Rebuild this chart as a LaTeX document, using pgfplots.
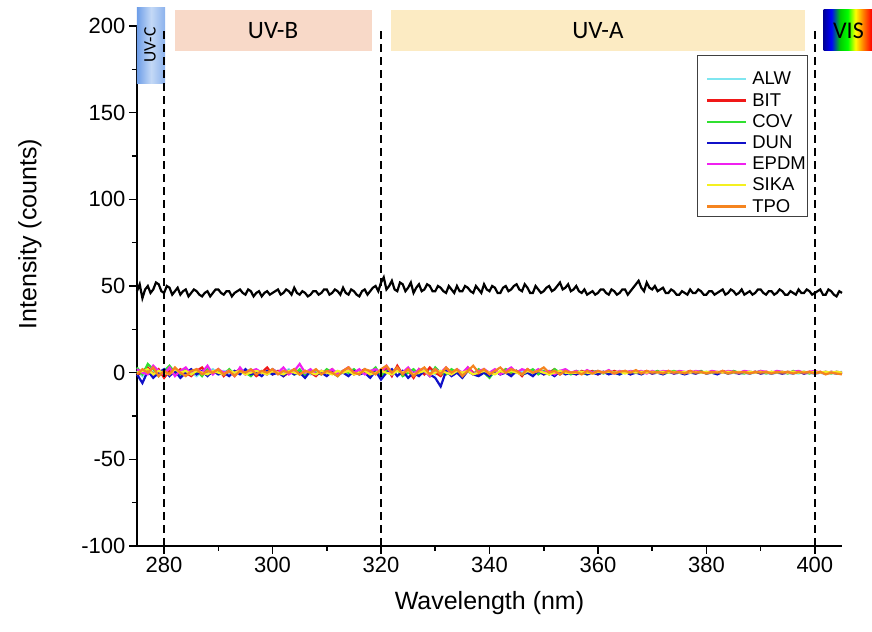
\documentclass[border=0pt]{standalone}
\usepackage{fontspec}
\setmainfont{Liberation Sans}
\newfontfamily\calfont{Carlito}
\usepackage{pgfplots}
\usepackage{pgfplotstable}
\pgfplotsset{compat=1.18}

\definecolor{cALW}{HTML}{7FE6F0}
\definecolor{cBIT}{HTML}{F01818}
\definecolor{cCOV}{HTML}{30E030}
\definecolor{cDUN}{HTML}{1010C8}
\definecolor{cEPDM}{HTML}{F020F0}
\definecolor{cSIKA}{HTML}{F4F020}
\definecolor{cTPO}{HTML}{F5841F}
\definecolor{UVB}{HTML}{F8D9C8}
\definecolor{UVA}{HTML}{FCEBC3}
\definecolor{UVCdark}{HTML}{6E9EE8}
\definecolor{UVClight}{HTML}{C4D9F6}

\pgfdeclarehorizontalshading{rainbow}{100bp}{
  color(0bp)=(blue!60!black); color(25bp)=(blue!60!black);
  color(33bp)=(blue); color(42bp)=(green!80!black); color(50bp)=(green);
  color(58bp)=(yellow); color(66bp)=(orange); color(75bp)=(red);
  color(100bp)=(red)}

% background (black) spectrum
\pgfplotstableread{
x y
275 47
275.5 51
276 43
276.5 48
277 50
277.5 46
278 48
278.5 52
279 51
279.5 47
280 46
280.5 50
281 49
281.5 45
282 47
282.5 49
283 45
283.5 47
284 48
284.5 44
285 46
285.5 48
286 47
286.5 45
287 44
287.5 46
288 47
288.5 44
289 46
289.5 48
290 48
290.5 46
291 45
291.5 47
292 47
292.5 44
293 46
293.5 47
294 48
294.5 46
295 45
295.5 48
296 47
296.5 44
297 46
297.5 47
298 44
298.5 46
299 47
299.5 45
300 46
300.5 47
301 48
301.5 45
302 46
302.5 48
303 47
303.5 45
304 49
304.5 46
305 45
305.5 47
306 46
306.5 44
307 45
307.5 47
308 47
308.5 45
309 46
309.5 48
310 48
310.5 45
311 46
311.5 48
312 47
312.5 45
313 49
313.5 46
314 45
314.5 48
315 47
315.5 45
316 44
316.5 47
317 48
317.5 45
318 47
318.5 49
319 50
319.5 47
320 52
320.5 55
321 48
321.5 50
322 53
322.5 48
323 47
323.5 52
324 51
324.5 47
325 49
325.5 52
326 46
326.5 49
327 51
327.5 47
328 48
328.5 51
329 50
329.5 47
330 47
330.5 50
331 49
331.5 47
332 46
332.5 50
333 48
333.5 46
334 50
334.5 47
335 47
335.5 50
336 49
336.5 47
337 46
337.5 50
338 48
338.5 46
339 51
339.5 48
340 47
340.5 50
341 49
341.5 46
342 46
342.5 49
343 50
343.5 47
344 48
344.5 50
345 51
345.5 48
346 47
346.5 51
347 49
347.5 46
348 46
348.5 50
349 48
349.5 46
350 47
350.5 49
351 50
351.5 47
352 48
352.5 50
353 52
353.5 48
354 49
354.5 51
355 47
355.5 48
356 50
356.5 47
357 46
357.5 48
358 45
358.5 46
359 47
359.5 45
360 46
360.5 48
361 48
361.5 46
362 45
362.5 48
363 47
363.5 45
364 46
364.5 48
365 48
365.5 45
366 47
366.5 49
367 51
367.5 53
368 49
368.5 47
369 52
369.5 49
370 48
370.5 50
371 47
371.5 48
372 49
372.5 46
373 46
373.5 48
374 47
374.5 45
375 45
375.5 47
376 46
376.5 45
377 48
377.5 46
378 46
378.5 48
379 47
379.5 45
380 45
380.5 47
381 47
381.5 45
382 46
382.5 47
383 48
383.5 45
384 46
384.5 48
385 47
385.5 45
386 46
386.5 48
387 45
387.5 46
388 47
388.5 45
389 46
389.5 48
390 48
390.5 46
391 45
391.5 47
392 47
392.5 45
393 46
393.5 48
394 47
394.5 45
395 45
395.5 47
396 46
396.5 45
397 48
397.5 46
398 46
398.5 48
399 47
399.5 45
400 46
400.5 47
401 48
401.5 45
402 45
402.5 48
403 47
403.5 45
404 44
404.5 47
405 46
}\refdata

% samples
\pgfplotstableread{
x alw bit cov dun epdm sika tpo
275 1 -2 3 -1 2 0 -1
276 -2 1 -1 -6 0 1 2
277 2 3 5 1 -1 2 0
278 0 -1 2 -3 4 -1 3
279 -1 2 -2 0 1 1 -2
280 1 -3 1 2 -1 0 1
281 0 1 4 -2 3 -1 -1
282 2 -1 0 1 -2 2 3
283 -1 2 -1 -3 1 0 0
284 1 0 2 0 3 1 -2
285 0 -2 -1 2 -1 -1 1
286 -2 1 1 -1 2 1 2
287 1 3 -2 1 0 0 -1
288 0 -1 2 -2 4 -1 1
289 2 0 0 1 -1 1 0
290 -1 2 1 -1 2 0 2
291 1 -2 -1 0 0 -1 -1
292 0 1 2 -2 1 1 1
293 -1 0 -1 1 -2 0 -2
294 1 2 1 -1 3 1 1
295 0 -1 0 2 -1 -1 0
296 2 1 -2 -1 1 0 2
297 -1 -2 1 0 2 1 -1
298 1 0 0 -2 0 0 1
299 0 3 -1 1 -1 -1 0
300 -1 -1 2 -1 2 1 2
301 1 1 0 0 0 0 -1
302 0 -2 -1 -2 3 -1 1
303 2 0 1 1 -1 1 0
304 -1 2 -1 -1 1 0 2
305 0 -1 2 0 5 -1 -1
306 1 1 -2 -3 0 1 1
307 -1 0 1 1 2 0 0
308 0 -2 0 -1 -1 -1 2
309 1 1 -1 0 1 1 -1
310 -1 0 2 -2 0 0 1
311 0 2 0 1 2 -1 0
312 1 -1 -2 -1 -1 1 -2
313 0 1 1 0 1 0 1
314 -1 3 0 -2 3 1 3
315 1 -1 2 1 0 -1 0
316 0 0 -1 -1 2 0 -1
317 2 2 1 0 -1 1 2
318 -1 -2 0 -3 1 -1 1
319 1 1 3 1 2 0 -1
320 0 -1 -2 -4 0 1 2
321 2 3 1 0 4 0 4
322 -1 -2 -1 2 -1 -1 0
323 1 4 2 -2 2 1 3
324 0 -1 -2 1 0 0 -1
325 2 1 0 -3 3 1 2
326 -1 -3 2 0 -1 -1 -2
327 1 2 -1 -2 2 0 1
328 0 -1 1 1 1 1 3
329 2 3 -2 -1 -2 -1 -1
330 -1 0 3 -3 2 0 2
331 1 -2 0 -8 0 1 -1
332 0 2 -1 1 3 0 3
333 -1 -1 2 -2 -1 -1 0
334 1 1 0 0 2 1 2
335 0 -2 -2 -3 0 0 -2
336 2 3 1 1 3 1 1
337 -1 0 -1 -1 -1 -1 4
338 1 -1 2 -2 1 0 0
339 0 2 0 0 2 1 2
340 -1 -1 -3 -2 0 0 -1
341 1 1 1 1 2 -1 1
342 0 0 -1 -1 -1 1 3
343 1 2 2 0 1 0 0
344 -1 -1 0 -2 3 1 2
345 0 1 1 1 0 0 1
346 1 -2 -1 -1 2 -1 -1
347 0 2 0 0 1 1 2
348 -1 0 2 -2 0 0 0
349 1 1 -1 1 2 1 1
350 0 -1 1 -1 0 0 3
351 1 0 -1 0 1 -1 0
352 0 2 2 -2 -1 0 1
353 -1 -1 0 1 1 1 -1
354 1 1 1 -1 2 0 1
355 0 0 -1 0 0 0 0
356 0.5 -1 1 -1 1 0 0.5
357 -0.5 1 0 0.5 -0.5 0.5 -1
358 0.5 0 -1 -1 1.5 0 1
359 0 1 0.5 0 0 -0.5 -0.5
360 -0.5 -1 1 -1 1 0.5 1
361 0.5 0.5 -0.5 0.5 0 0 0
362 0 -0.5 1 -1 1.5 0.5 1
363 0.5 1 0 0 -0.5 0 -0.5
364 -0.5 0 -1 -1 1 0.5 0.5
365 0.5 1 0.5 0.5 0 -0.5 1
366 0 -1 0 -1 1 0.5 0
367 0.5 0.5 1 0 0.5 0 1.5
368 -0.5 0 -0.5 -1 1 0.5 -0.5
369 0 1 0.5 0.5 -0.5 0 1
370 0.5 -0.5 0 -0.5 1 0.5 0
371 0 0.5 1 0 0 0 0.5
372 -0.5 0 -0.5 -1 1 0.5 -0.5
373 0.5 1 0 0.5 0.5 0 1
374 0 -0.5 1 -0.5 0 0.5 0
375 0.5 0.5 0 0 1 0 0.5
376 0 0 -0.5 -1 0.5 0.5 -0.5
377 0.5 1 0.5 0 0 0 1
378 -0.5 -0.5 0 -0.5 1 0.5 0
379 0 0.5 1 0.5 0.5 0 0.5
380 0.5 0 -0.5 -0.5 0 0.5 -0.5
381 0 0.5 0.5 0 1 0 0.5
382 -0.5 -0.5 0 -1 0.5 0.5 0
383 0.5 1 0.5 0.5 0 0 1
384 0 0 -0.5 -0.5 1 0.5 -0.5
385 0.5 0.5 1 0 0.5 0 0.5
386 0 -0.5 0 -0.5 0 0.5 0
387 0.5 0.5 -0.5 0 1 0 0.5
388 -0.5 0 0.5 -0.5 0.5 0.5 -0.5
389 0 0.5 0 0.5 0 0 0.5
390 0.5 -0.5 1 -0.5 1 0.5 0
391 0 0.5 -0.5 0 0.5 0 0.5
392 -0.5 0 0.5 -0.5 0 0.5 -0.5
393 0.5 0.5 0 0 1 0 0.5
394 0 -0.5 0.5 -0.5 0.5 0.5 0
395 0.5 0.5 -0.5 0 0 0 0.5
396 0 0 1 -0.5 0.5 0.5 -0.5
397 -0.5 0.5 0 0.5 1 0 0.5
398 0.5 -0.5 0.5 -0.5 0 0.5 0
399 0 0.5 -0.5 0 0.5 0 0.5
400 0.5 0 0.5 -0.5 1 0.5 -0.5
401 0 0.5 0 0 0 0 0.5
402 -0.5 -0.5 0.5 -0.5 0.5 0.5 -1
403 0.5 0.5 -0.5 0 0 0 0
404 0 0 0.5 -0.5 0.5 0.5 -0.5
405 0.5 -0.5 0 0 0 0 -1
}\samples

\begin{document}
\begin{tikzpicture}
  \begin{axis}[
      scale only axis,
      width=705pt, height=520pt,
      xmin=275, xmax=405,
      ymin=-100, ymax=200,
      clip=false,
      axis x line=bottom, axis y line=left,
      axis line style={-, line width=2pt},
      xtick={280,300,...,400},
      ytick={-100,-50,...,200},
      minor x tick num=1, minor y tick num=1,
      tick align=outside,
      major tick length=8pt, minor tick length=5pt,
      every tick/.style={black, line width=1.6pt},
      /pgf/number format/assume math mode=true,
      tick label style={font=\fontsize{22}{26}\selectfont},
      xlabel={Wavelength (nm)},
      ylabel={Intensity (counts)},
      label style={font=\fontsize{25}{30}\selectfont},
      xlabel style={at={(axis description cs:0.5,-0.11)}, anchor=center},
      ylabel style={at={(axis description cs:-0.152,0.6)}, anchor=center},
      legend style={at={(axis description cs:0.9518,0.9442)}, anchor=north east,
        yshift=-15pt, draw=none, fill=none, inner sep=0pt,
        font=\fontsize{18.5}{20.3}\selectfont, row sep=2.9pt},
      legend cell align=left,
      legend image code/.code={\draw[#1, line width=2.2pt] (0pt,0pt) -- (39pt,0pt);
        \path (42pt,0pt);},
      every axis plot/.append style={line width=2.2pt},
    ]
    % band boxes above the plot
    \shade[left color=UVCdark, right color=UVCdark!80, middle color=UVClight]
      (axis cs:275,167) rectangle (axis cs:280.2,210.5);
    \fill[UVB] (axis cs:282,185.6) rectangle (axis cs:318.3,209.3);
    \fill[UVA] (axis cs:321.8,185.6) rectangle (axis cs:398.1,209.3);
    \shade[shading=rainbow] (axis cs:401.6,185.6) rectangle (axis cs:410.5,209.3);
    \node[rotate=90, font=\calfont\fontsize{17.5}{20}\selectfont] at (axis cs:277.4,189) {UV-C};
    \node[font=\calfont\fontsize{25}{30}\selectfont] at (axis cs:300.1,197.5) {UV-B};
    \node[font=\calfont\fontsize{25}{30}\selectfont] at (axis cs:360,197.5) {UV-A};
    \node[font=\calfont\fontsize{24}{28}\selectfont] at (axis cs:406.2,197.5) {VIS};

    % legend frame
    \draw[black!75, line width=1pt] (rel axis cs:0.7957,0.6327) rectangle (rel axis cs:0.9518,0.9442);

    \addplot[black, forget plot] table[x=x, y=y] {\refdata};
    \addplot[cALW] table[x=x, y=alw] {\samples};
    \addlegendentry{ALW}
    \addplot[cBIT] table[x=x, y=bit] {\samples};
    \addlegendentry{BIT}
    \addplot[cCOV] table[x=x, y=cov] {\samples};
    \addlegendentry{COV}
    \addplot[cDUN] table[x=x, y=dun] {\samples};
    \addlegendentry{DUN}
    \addplot[cEPDM] table[x=x, y=epdm] {\samples};
    \addlegendentry{EPDM}
    \addplot[cSIKA] table[x=x, y=sika] {\samples};
    \addlegendentry{SIKA}
    \addplot[cTPO] table[x=x, y=tpo] {\samples};
    \addlegendentry{TPO}

    % band edges
    \draw[black, line width=2pt, dash pattern=on 8pt off 5pt]
      (axis cs:280,-100) -- (axis cs:280,197);
    \draw[black, line width=2pt, dash pattern=on 8pt off 5pt]
      (axis cs:320,-100) -- (axis cs:320,199);
    \draw[black, line width=2pt, dash pattern=on 8pt off 5pt]
      (axis cs:400,-100) -- (axis cs:400,199);

    % frame of the reference picture
    \path (rel axis cs:-0.1943,-0.1635) rectangle (rel axis cs:1.0426,1.05);
  \end{axis}
\end{tikzpicture}
\end{document}
